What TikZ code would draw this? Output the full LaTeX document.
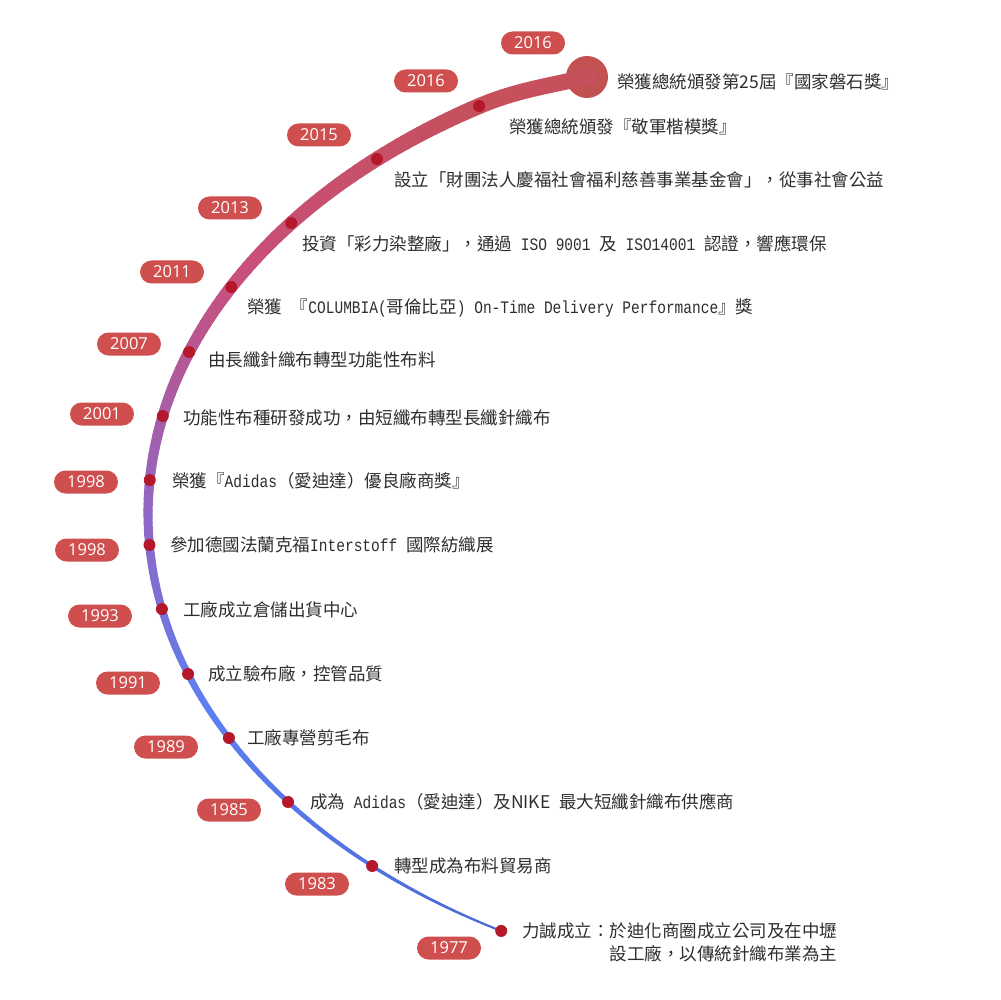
\documentclass[tikz,border=0pt]{standalone}
\usepackage{fontspec}
\newfontfamily\cjk{Noto Sans CJK TC}
\newfontfamily\hw[FakeStretch=0.83]{Liberation Mono}
\newfontfamily\yr{Open Sans}
\definecolor{cA}{HTML}{4B6AD6}
\definecolor{cB}{HTML}{5C7FF2}
\definecolor{cC}{HTML}{8E68C6}
\definecolor{cD}{HTML}{C8507E}
\definecolor{cE}{HTML}{C6505C}
\definecolor{pillred}{HTML}{CF4F4F}
\definecolor{dotred}{HTML}{B3192B}
\definecolor{bigred}{HTML}{C25252}
\definecolor{txt}{HTML}{2E2E2E}
\begin{document}
\begin{tikzpicture}[x=1pt,y=-1pt,
  declare function={ex(\a)=848-700*cos(\a);ey(\a)=514+480*sin(\a);},
  pill/.style={rectangle, rounded corners=11.5pt, fill=pillred, minimum width=64pt, minimum height=23pt, inner sep=0pt, text=white, font=\yr\fontsize{16.5}{18}\selectfont},
  dot/.style={circle, fill=dotred, minimum size=12pt, inner sep=0pt},
  lbl/.style={anchor=west, inner sep=0pt, text=txt, font=\cjk\fontsize{17.5}{23}\selectfont},
]
\fill[white] (0,0) rectangle (1001,1000);
\useasboundingbox (0,0) rectangle (1001,1000);

% tapered gradient arc
\foreach \i in {0,...,159}{
  \pgfmathsetmacro\ta{\i/160}
  \pgfmathsetmacro\pa{60.3-0.740625*\i}
  \pgfmathsetmacro\pb{60.3-0.740625*(\i+1)}
  \pgfmathsetmacro\w{2+14*\ta+0.04375}
  \pgfmathtruncatemacro\k{(\ta>=0.3)+(\ta>=0.5)+(\ta>=0.75)}
  \ifcase\k
    \pgfmathtruncatemacro\p{100*\ta/0.3}\def\ca{cA}\def\cb{cB}%
  \or
    \pgfmathtruncatemacro\p{100*(\ta-0.3)/0.2}\def\ca{cB}\def\cb{cC}%
  \or
    \pgfmathtruncatemacro\p{100*(\ta-0.5)/0.25}\def\ca{cC}\def\cb{cD}%
  \else
    \pgfmathtruncatemacro\p{100*(\ta-0.75)/0.25}\def\ca{cD}\def\cb{cE}%
  \fi
  \draw[line width=\w pt, line cap=round, color=\cb!\p!\ca] ({ex(\pa)},{ey(\pa)}) -- ({ex(\pb)},{ey(\pb)});
}
\coordinate (arcend) at ({ex(-58.2)},{ey(-58.2)});
\node[circle, fill=bigred, minimum size=42pt, inner sep=0pt] (top) at (587,77) {};
\draw[line width=16pt, cE, line cap=round] (arcend) .. controls +(37,-15.7) and +(-39,9) .. (top.center);

% dots
\node[dot] (d1977) at ({ex(60.3)},{ey(60.3)}) {};
\node[dot] (d1983) at ({ex(47.17)},{ey(47.17)}) {};
\node[dot] (d1985) at ({ex(36.87)},{ey(36.87)}) {};
\node[dot] (d1989) at ({ex(27.82)},{ey(27.82)}) {};
\node[dot] (d1991) at ({ex(19.47)},{ey(19.47)}) {};
\node[dot] (d1993) at ({ex(11.42)},{ey(11.42)}) {};
\node[dot] (d1998a) at ({ex(3.70)},{ey(3.70)}) {};
\node[dot] (d1998b) at ({ex(-4.06)},{ey(-4.06)}) {};
\node[dot] (d2001) at ({ex(-11.78)},{ey(-11.78)}) {};
\node[dot] (d2007) at ({ex(-19.72)},{ey(-19.72)}) {};
\node[dot] (d2011) at ({ex(-28.22)},{ey(-28.22)}) {};
\node[dot] (d2013) at ({ex(-37.31)},{ey(-37.31)}) {};
\node[dot] (d2015) at ({ex(-47.70)},{ey(-47.70)}) {};
\node[dot] (d2016b) at ({ex(-58.2)},{ey(-58.2)}) {};

% year pills
\node[pill] (p2016a) at (533,43) {2016};
\node[pill] (p2016b) at (426,81) {2016};
\node[pill] (p2015) at (319,135) {2015};
\node[pill] (p2013) at (230,208) {2013};
\node[pill] (p2011) at (172,272) {2011};
\node[pill] (p2007) at (129,344) {2007};
\node[pill] (p2001) at (102,414) {2001};
\node[pill] (p1998b) at (86,482) {1998};
\node[pill] (p1998a) at (87,550) {1998};
\node[pill] (p1993) at (100,616) {1993};
\node[pill] (p1991) at (128,683) {1991};
\node[pill] (p1989) at (166,747) {1989};
\node[pill] (p1985) at (229,810) {1985};
\node[pill] (p1983) at (317,884) {1983};
\node[pill] (p1977) at (449,948) {1977};

% labels
\node[lbl] (t2016a) at (617,82) {榮獲總統頒發第25屆『國家磐石獎』};
\node[lbl] (t2016b) at (509,127) {榮獲總統頒發『敬軍楷模獎』};
\node[lbl] (t2015) at (394,180) {設立「財團法人慶福社會福利慈善事業基金會」，從事社會公益};
\node[lbl] (t2013) at (302,244) {投資「彩力染整廠」，通過{\hw\ ISO 9001 }及{\hw\ ISO14001 }認證，響應環保};
\node[lbl] (t2011) at (247,308) {榮獲{\hw\ }『{\hw COLUMBIA(}哥倫比亞{\hw ) On-Time Delivery Performance}』獎};
\node[lbl] (t2007) at (208,360) {由長纖針織布轉型功能性布料};
\node[lbl] (t2001) at (183,418) {功能性布種研發成功，由短纖布轉型長纖針織布};
\node[lbl] (t1998b) at (172,481) {榮獲『{\hw Adidas}（愛迪達）優良廠商獎』};
\node[lbl] (t1998a) at (170,545) {參加德國法蘭克福{\hw Interstoff }國際紡織展};
\node[lbl] (t1993) at (183,610) {工廠成立倉儲出貨中心};
\node[lbl] (t1991) at (208,674) {成立驗布廠，控管品質};
\node[lbl] (t1989) at (247,738) {工廠專營剪毛布};
\node[lbl] (t1985) at (310,802) {成為{\hw\ Adidas}（愛迪達）及NIKE{\hw\ }最大短纖針織布供應商};
\node[lbl] (t1983) at (394,866) {轉型成為布料貿易商};
\node[lbl, align=right] (t1977) at (522,942.5) {力誠成立：於迪化商圈成立公司及在中壢\\設工廠，以傳統針織布業為主};
\end{tikzpicture}
\end{document}
